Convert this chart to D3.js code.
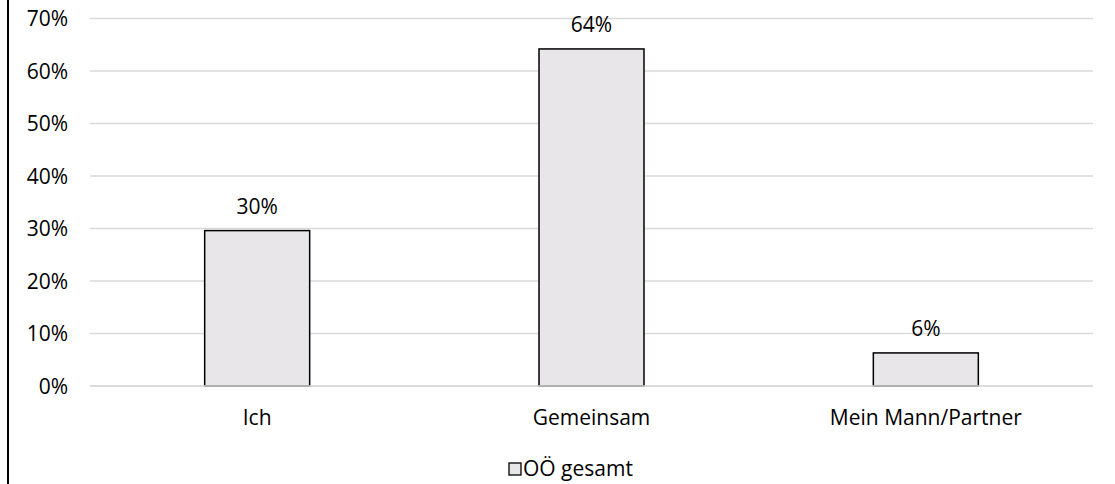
<!DOCTYPE html>
<html><head><meta charset="utf-8">
<script src="https://cdn.jsdelivr.net/npm/d3@7"></script>
<style>body{margin:0;background:#fff}svg{display:block}text{font-family:"Open Sans",Lato,sans-serif;fill:#000}</style>
</head><body><svg id="c" width="1115" height="484"></svg>
<script>
const categories = ["Ich", "Gemeinsam", "Mein Mann/Partner"];
const values = [29.6, 64.2, 6.3];
const valueLabels = ["30%", "64%", "6%"];
const yTicks = [0, 10, 20, 30, 40, 50, 60, 70];
const seriesName = "OÖ gesamt";

const FS = 21;
const svg = d3.select("#c");
const x = d3.scaleBand().domain(categories).range([90, 1093]).paddingInner(0.686).paddingOuter(0.343);
const y = d3.scaleLinear().domain([0, 70]).range([386, 18.5]);

// left border
svg.append("line").attr("x1", 8).attr("x2", 8).attr("y1", 0).attr("y2", 484).attr("stroke", "#000").attr("stroke-width", 2);

// grid
svg.append("g").selectAll("line").data(yTicks).join("line")
  .attr("x1", 90).attr("x2", 1093).attr("y1", d => y(d)).attr("y2", d => y(d))
  .attr("stroke", "#d9d9d9").attr("stroke-width", 1.5);

// y labels
svg.append("g").selectAll("text").data(yTicks).join("text")
  .attr("x", 68).attr("y", d => y(d) + 7.5).attr("text-anchor", "end")
  .attr("font-size", FS).text(d => d + "%");

// bars
svg.append("g").selectAll("rect").data(values).join("rect")
  .attr("x", (d, i) => x(categories[i])).attr("width", x.bandwidth())
  .attr("y", d => y(d)).attr("height", d => y(0) - y(d))
  .attr("fill", "#e8e6e8").attr("stroke", "#000").attr("stroke-width", 1.5);

// baseline over bars
svg.append("line").attr("x1", 90).attr("x2", 1093).attr("y1", y(0)).attr("y2", y(0))
  .attr("stroke", "#d9d9d9").attr("stroke-width", 1.5);

// value labels
svg.append("g").selectAll("text").data(values).join("text")
  .attr("x", (d, i) => x(categories[i]) + x.bandwidth() / 2).attr("y", d => y(d) - 16.5)
  .attr("text-anchor", "middle").attr("font-size", FS).text((d, i) => valueLabels[i]);

// category labels
svg.append("g").selectAll("text").data(categories).join("text")
  .attr("x", d => x(d) + x.bandwidth() / 2).attr("y", 425)
  .attr("text-anchor", "middle").attr("font-size", FS).text(d => d);

// legend
const lg = svg.append("g");
lg.append("rect").attr("x", 509).attr("y", 463).attr("width", 12).attr("height", 12)
  .attr("fill", "#e8e6e8").attr("stroke", "#000").attr("stroke-width", 1.3);
lg.append("text").attr("x", 523).attr("y", 476).attr("font-size", FS).text(seriesName);
</script></body></html>
